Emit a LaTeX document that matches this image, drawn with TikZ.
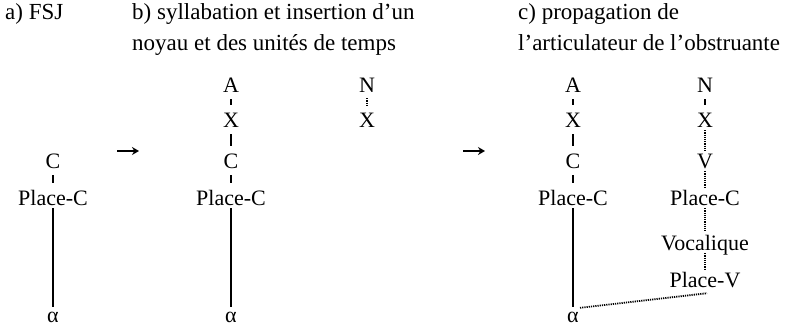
\documentclass[tikz,border=0pt]{standalone}
\usepackage{fontspec}
\setmainfont{Liberation Serif}
\usetikzlibrary{arrows.meta}
\begin{document}
\begin{tikzpicture}[x=1pt,y=-1pt,
  lab/.style={inner sep=0pt,anchor=base,font=\fontsize{22}{26}\selectfont,text height=14.5pt,text depth=0pt},
  alab/.style={inner sep=0pt,anchor=base,font=\fontsize{22}{26}\selectfont,text height=9pt,text depth=0pt},
  head/.style={inner sep=0pt,anchor=base west,font=\fontsize{23}{30}\selectfont},
  tick/.style={line width=1.8pt,shorten <=7pt,shorten >=7pt},
  dtick/.style={line width=1.8pt,dash pattern=on 1.2pt off 1pt,shorten <=6pt,shorten >=6pt},
  dline/.style={line width=1.8pt,dash pattern=on 1.2pt off 1pt,shorten <=3pt,shorten >=3pt},
  assoc/.style={line width=2.2pt,shorten <=3pt,shorten >=6pt},
  step arrow/.style={line width=2.6pt,-{Stealth[length=7pt,width=8pt]}}
]
\useasboundingbox (0,0) rectangle (794,329);
% headings
\node[head] (ha) at (5,20) {a) FSJ};
\node[head] (hb1) at (132,20) {b) syllabation et insertion d’un};
\node[head] (hb2) at (132,50) {noyau et des unités de temps};
\node[head] (hc1) at (518,20) {c) propagation de};
\node[head] (hc2) at (518,50) {l’articulateur de l’obstruante};
% column a
\node[lab] (aC) at (53,168) {C};
\node[lab] (aP) at (53,205) {Place-C};
\node[alab] (aal) at (53,322) {α};
\draw[tick] (aC.south) -- (aP.north);
\draw[assoc] (aP.south) -- (aal.north);
% arrow 1
\coordinate (ar1s) at (117,151);
\coordinate (ar1e) at (139,151);
\draw[step arrow] (ar1s) -- (ar1e);
% column b
\node[lab] (bA) at (231,92) {A};
\node[lab] (bX) at (231,127) {X};
\node[lab] (bC) at (231,168) {C};
\node[lab] (bP) at (231,205) {Place-C};
\node[alab] (bal) at (231,322) {α};
\draw[tick] (bA.south) -- (bX.north);
\draw[tick] (bX.south) -- (bC.north);
\draw[tick] (bC.south) -- (bP.north);
\draw[assoc] (bP.south) -- (bal.north);
\node[lab] (bN) at (367,92) {N};
\node[lab] (bNX) at (367,127) {X};
\draw[dtick] (bN.south) -- (bNX.north);
% arrow 2
\coordinate (ar2s) at (463,151);
\coordinate (ar2e) at (485,151);
\draw[step arrow] (ar2s) -- (ar2e);
% column c left
\node[lab] (cA) at (573,92) {A};
\node[lab] (cX) at (573,127) {X};
\node[lab] (cC) at (573,168) {C};
\node[lab] (cP) at (573,205) {Place-C};
\node[alab] (cal) at (573,322) {α};
\draw[tick] (cA.south) -- (cX.north);
\draw[tick] (cX.south) -- (cC.north);
\draw[tick] (cC.south) -- (cP.north);
\draw[assoc] (cP.south) -- (cal.north);
% column c right
\node[lab] (dN) at (705,92) {N};
\node[lab] (dX) at (705,127) {X};
\node[lab] (dV) at (705,168) {V};
\node[lab] (dP) at (705,205) {Place-C};
\node[lab] (dVoc) at (705,250) {Vocalique};
\node[lab] (dPV) at (705,287) {Place-V};
\draw[tick] (dN.south) -- (dX.north);
\draw[dline] (dX.south) -- (dV.north);
\draw[dline] (dV.south) -- (dP.north);
\draw[dline] (dP.south) -- (dVoc.north);
\draw[dline] (dVoc.south) -- (dPV.north);
\draw[line width=1.8pt,dash pattern=on 1.2pt off 1pt] ([xshift=7pt,yshift=5pt]cal.north) -- ([xshift=2pt,yshift=-6pt]dPV.south);
\end{tikzpicture}
\end{document}
